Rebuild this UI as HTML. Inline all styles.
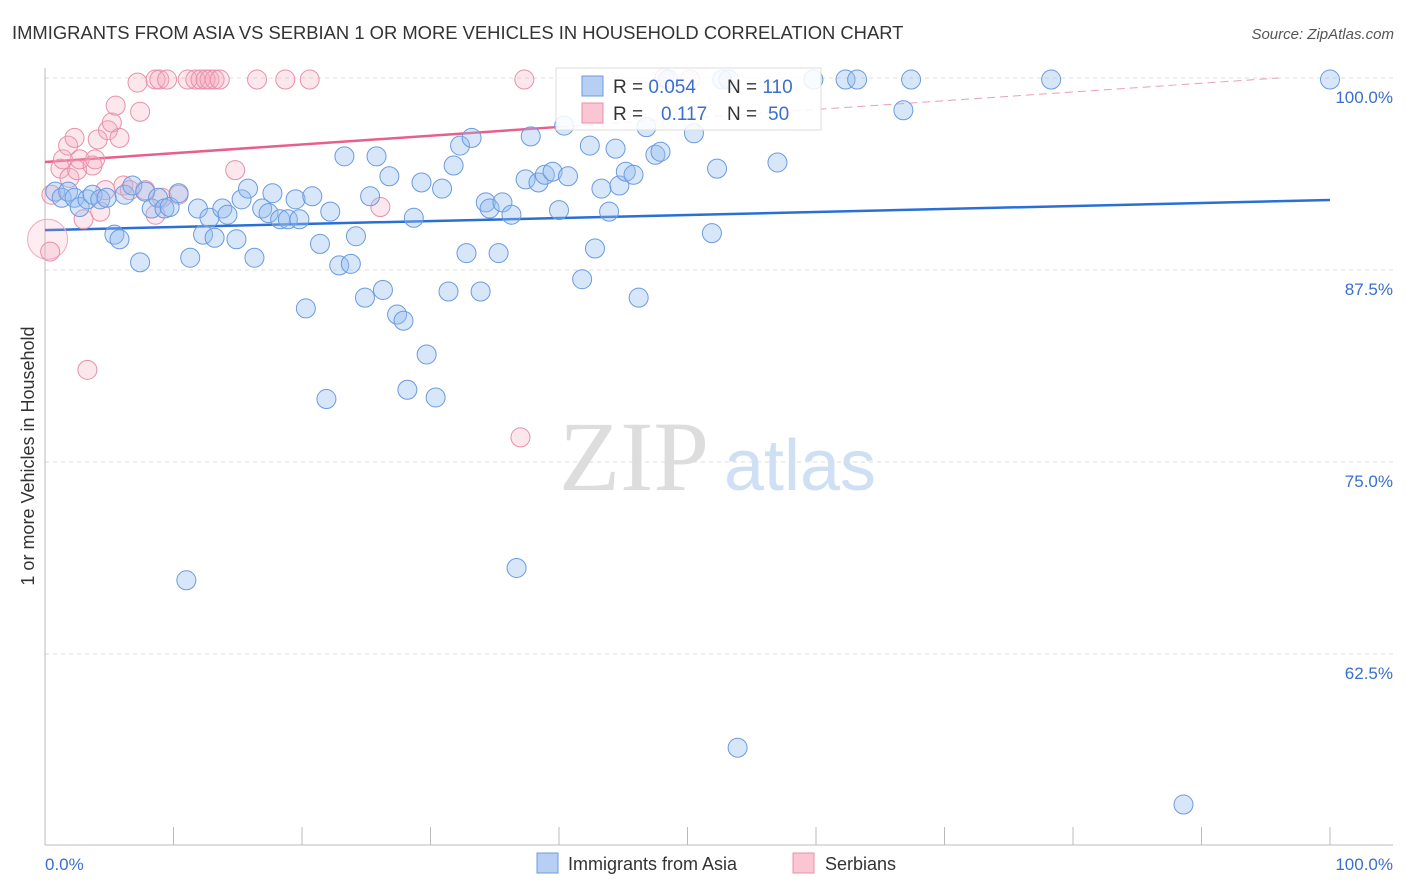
<!DOCTYPE html>
<html><head><meta charset="utf-8"><style>
body{margin:0;background:#fff;font-family:"Liberation Sans",sans-serif}
svg{display:block}
</style></head><body>
<svg id="chart" width="1406" height="892">
<text x="12" y="39" font-size="18.4" fill="#333">IMMIGRANTS FROM ASIA VS SERBIAN 1 OR MORE VEHICLES IN HOUSEHOLD CORRELATION CHART</text>
<text x="1394" y="39" font-size="15" fill="#555" font-style="italic" text-anchor="end">Source: ZipAtlas.com</text>
<text x="0" y="0" transform="translate(34,456) rotate(-90)" font-size="18" fill="#333" text-anchor="middle">1 or more Vehicles in Household</text>
<g>
<text x="634" y="490" font-size="100" font-family="Liberation Serif,serif" fill="#ddd" text-anchor="middle">ZIP</text>
<text x="800" y="490" font-size="72" fill="#cfe0f4" text-anchor="middle">atlas</text>
</g>
<g id="grid"></g>
<g id="axes"></g>
<g id="lines"></g>
<g id="pts"></g>
<g>
<rect x="556" y="68" width="265" height="62" fill="#fff" fill-opacity="0.85" stroke="#ddd"/>
<rect x="582" y="76" width="21" height="20" fill="#b6cff2" stroke="#6a9be0"/>
<rect x="582" y="103" width="21" height="20" fill="#fac6d4" stroke="#e890aa"/>
<text x="613" y="93" font-size="19" fill="#333">R = <tspan fill="#3a6fd0">0.054</tspan></text>
<text x="727" y="93" font-size="19" fill="#333">N = <tspan fill="#3a6fd0">110</tspan></text>
<text x="613" y="120" font-size="19" fill="#333">R = <tspan fill="#3a6fd0" x="661">0.117</tspan></text>
<text x="727" y="120" font-size="19" fill="#333">N = <tspan fill="#3a6fd0" x="768">50</tspan></text>
</g>
<g>
<rect x="537" y="853" width="21" height="20" fill="#b6cff2" stroke="#6a9be0"/>
<text x="568" y="870" font-size="18" fill="#333">Immigrants from Asia</text>
<rect x="793" y="853" width="21" height="20" fill="#fac6d4" stroke="#e890aa"/>
<text x="825" y="870" font-size="18" fill="#333">Serbians</text>
</g>
</svg>
<script>
const yTicks=[100,87.5,75,62.5];
const yTickLabels=["100.0%","87.5%","75.0%","62.5%"];
const xTickLabels=["0.0%","100.0%"];
const asiaX=[0.8,1.3,1.8,2.3,2.7,3.3,3.7,4.3,4.8,5.4,5.8,6.2,6.8,7.4,7.8,8.3,8.8,9.3,9.7,10.4,11.0,11.3,11.9,12.3,12.8,13.2,13.8,14.2,14.9,15.3,15.8,16.3,16.9,17.4,17.7,18.3,18.9,19.5,19.8,20.3,20.8,21.4,21.9,22.2,22.9,23.3,23.8,24.2,24.9,25.3,25.8,26.3,26.8,27.4,27.9,28.2,28.7,29.3,29.7,30.4,30.9,31.4,31.8,32.3,32.8,33.2,33.9,34.3,34.6,35.3,35.6,36.3,36.7,37.4,37.8,38.4,38.9,39.5,40.0,40.4,40.7,41.8,42.4,42.8,43.3,43.9,44.4,44.7,45.2,45.8,46.2,46.8,47.5,47.9,48.5,50.5,51.9,52.3,52.7,53.2,53.9,57.0,59.8,62.3,63.2,66.8,67.4,78.3,88.6,100];
const asiaY=[92.6,92.2,92.6,92.2,91.6,92.1,92.4,92.1,92.2,89.8,89.5,92.4,93.0,88.0,92.6,91.5,92.2,91.5,91.6,92.5,67.3,88.3,91.5,89.8,90.9,89.6,91.5,91.1,89.5,92.1,92.8,88.3,91.5,91.2,92.5,90.8,90.8,92.1,90.8,85.0,92.3,89.2,79.1,91.3,87.8,94.9,87.9,89.7,85.7,92.3,94.9,86.2,93.6,84.6,84.2,79.7,90.9,93.2,82.0,79.2,92.8,86.1,94.3,95.6,88.6,96.1,86.1,91.9,91.5,88.6,91.9,91.1,68.1,93.4,96.2,93.2,93.7,93.9,91.4,96.9,93.6,86.9,95.6,88.9,92.8,91.3,95.4,93.0,93.9,93.7,85.7,96.8,95.0,95.2,99.9,96.4,89.9,94.1,99.9,99.9,56.4,94.5,99.9,99.9,99.9,97.9,99.9,99.9,52.7,99.9];
const serbX=[0.4,0.5,1.2,1.4,1.8,1.9,2.3,2.5,2.7,3.0,3.3,3.7,3.9,4.1,4.3,4.7,4.9,5.2,5.5,5.8,6.1,6.6,7.2,7.4,7.8,8.6,8.6,8.9,9.1,9.5,10.4,11.1,11.7,12.1,12.5,12.8,13.2,13.6,14.8,16.5,18.7,20.6,26.1,37.0,37.3,48.2,50.2];
const serbY=[88.7,92.4,94.1,94.7,95.6,93.5,96.1,94.0,94.7,90.8,81.0,94.3,94.7,96.0,91.3,92.7,96.6,97.1,98.2,96.1,93.0,92.7,99.7,97.8,92.7,91.1,99.9,99.9,92.2,99.9,92.4,99.9,99.9,99.9,99.9,99.9,99.9,99.9,94.0,99.9,99.9,99.9,91.6,76.6,99.9,100,99.9];
const asiaTrend=[90.1,92.06];
const serbTrend=[94.53,100.24];
const NS="http://www.w3.org/2000/svg";
const X0=45,X1=1330,YTOP=78,PXPER=15.36;
const sx=v=>X0+(X1-X0)*v/100;
const sy=v=>YTOP+(100-v)*PXPER;
function mk(tag,attrs,parent){const e=document.createElementNS(NS,tag);for(const k in attrs)e.setAttribute(k,attrs[k]);parent.appendChild(e);return e;}
const grid=document.getElementById('grid'),axes=document.getElementById('axes'),lines=document.getElementById('lines'),pts=document.getElementById('pts');
yTicks.forEach((t,i)=>{
 const l=mk('line',{x1:45,x2:1393,y1:sy(t),y2:sy(t),stroke:'#ddd','stroke-dasharray':'4,4'},grid);
 
 
 const tx=mk('text',{x:1393,y:sy(t)+25,'font-size':17,fill:'#3a6fd0','text-anchor':'end'},axes);
 tx.textContent=yTickLabels[i];
 
 
});
mk('line',{x1:45,x2:45,y1:68,y2:845,stroke:'#bbb'},axes);
const xa=mk('line',{x1:45,x2:1393,y1:845,y2:845,stroke:'#bbb'},axes);


for(let i=0;i<=10;i++){mk('line',{x1:sx(i*10),x2:sx(i*10),y1:827,y2:845,stroke:'#bbb'},axes);}
[[0,'start',45],[100,'end',1393]].forEach((d,i)=>{
 const t=mk('text',{x:d[2],y:870,'font-size':17,fill:'#3a6fd0','text-anchor':d[1]},axes);
 t.textContent=xTickLabels[i];
 
 
});
function dot(x,y,fill,stroke,r){
 const c=mk('circle',{cx:sx(x),cy:sy(y),r:r,fill:fill,stroke:stroke,'stroke-width':1},pts);
 
 
}
dot(0.2,89.5,'rgba(245,170,190,0.22)','#f0a8bc',20);
serbX.forEach((x,i)=>dot(x,serbY[i],'rgba(245,170,190,0.28)','#e890aa',9.5));
asiaX.forEach((x,i)=>dot(x,asiaY[i],'rgba(150,188,238,0.38)','#6a9be0',9.5));
const bl=mk('line',{x1:sx(0),y1:sy(asiaTrend[0]),x2:sx(100),y2:sy(asiaTrend[1]),stroke:'#2a6fd6','stroke-width':2.5},lines);


const sAt=x=>serbTrend[0]+(serbTrend[1]-serbTrend[0])*x/100;
const pl=mk('line',{x1:sx(0),y1:sy(sAt(0)),x2:sx(40),y2:sy(sAt(40)),stroke:'#e8608a','stroke-width':2.5},lines);


const pd=mk('line',{x1:sx(40),y1:sy(sAt(40)),x2:sx(96),y2:sy(Math.min(sAt(96),100)),stroke:'#e8a0b5','stroke-width':1,'stroke-dasharray':'8,5'},lines);


</script>
</body></html>
